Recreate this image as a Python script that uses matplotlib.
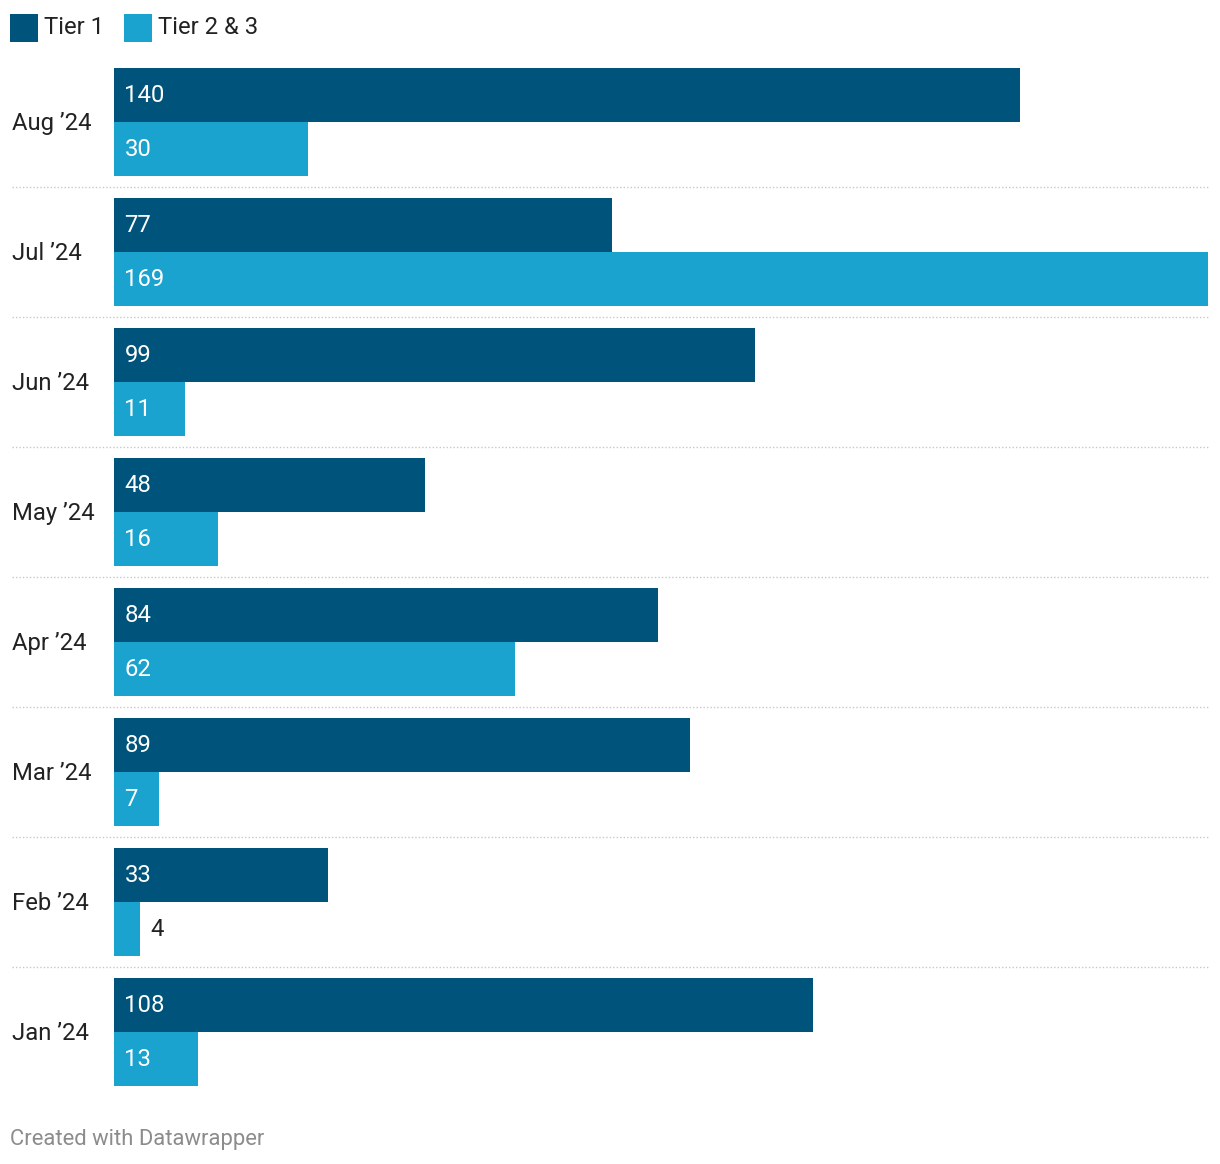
import matplotlib
matplotlib.use("Agg")
import matplotlib.pyplot as plt
import matplotlib.transforms as mtransforms
from matplotlib.patches import Rectangle
import numpy as np

plt.rcParams['font.family'] = ['Roboto', 'DejaVu Sans']

# data
months = ["Aug \u201924", "Jul \u201924", "Jun \u201924", "May \u201924",
          "Apr \u201924", "Mar \u201924", "Feb \u201924", "Jan \u201924"]
tier1 = [140, 77, 99, 48, 84, 89, 33, 108]
tier23 = [30, 169, 11, 16, 62, 7, 4, 13]
series_names = ["Tier 1", "Tier 2 & 3"]
colors = ["#00547b", "#1aa3cf"]

W, H = 1220, 1164
fig = plt.figure(figsize=(W / 100, H / 100), dpi=100)
ax = fig.add_axes([114 / W, (H - 1086) / H, (1208 - 114) / W, (1086 - 68) / H])

n = len(months)
y = np.arange(n)
h = 54 / 130  # bar height relative to group spacing

ax.barh(y - h / 2, tier1, height=h, color=colors[0], linewidth=0)
ax.barh(y + h / 2, tier23, height=h, color=colors[1], linewidth=0)
ax.set_xlim(0, max(max(tier1), max(tier23)))
ax.set_ylim(n - 1 + h, -h)
ax.axis("off")

fs = 17.2
# value labels
for vals, off in ((tier1, -h / 2), (tier23, h / 2)):
    for i, v in enumerate(vals):
        if v < 6:
            ax.annotate(str(v), (v, i + off), xytext=(7.5, -0.6), textcoords="offset points",
                        ha="left", va="center", fontsize=fs, color="#222222")
        else:
            ax.annotate(str(v), (0, i + off), xytext=(7.5, -0.6), textcoords="offset points",
                        ha="left", va="center", fontsize=fs, color="white")

# category labels and separators
blend = mtransforms.blended_transform_factory(fig.transFigure, ax.transData)
for i, m in enumerate(months):
    ax.annotate(m, (12 / W, i), xycoords=blend, xytext=(0, -0.8), textcoords="offset points",
                ha="left", va="center", fontsize=fs, color="#222222", annotation_clip=False)
for i in range(n - 1):
    ax.plot([(12 - 114) / 1094, 1], [i + 0.5, i + 0.5], transform=mtransforms.blended_transform_factory(ax.transAxes, ax.transData),
            color="#c8c8c8", linestyle=(0, (1, 1.5)), linewidth=1, clip_on=False)

# legend
lx = [10, 124]
for x0, name, c in zip(lx, series_names, colors):
    fig.add_artist(Rectangle((x0 / W, (H - 42) / H), 28 / W, 28 / H,
                             transform=fig.transFigure, color=c, linewidth=0))
    fig.text((x0 + 34) / W, (H - 28) / H, name, ha="left", va="center",
             fontsize=fs, color="#222222")

fig.text(10 / W, (H - 1139) / H, "Created with Datawrapper", ha="left", va="center",
         fontsize=15.8, color="#8c8c8c")

fig.savefig("out.png", dpi=100)
